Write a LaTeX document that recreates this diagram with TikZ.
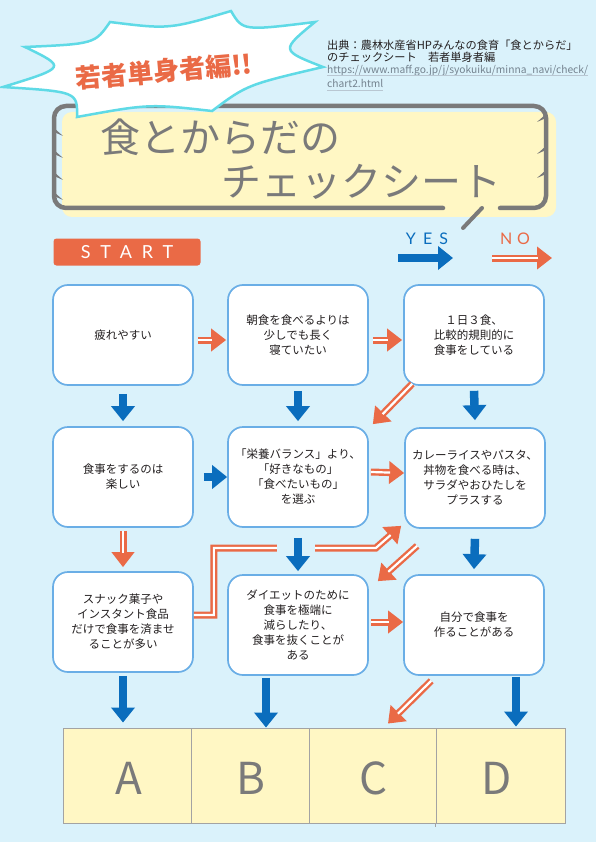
\documentclass[tikz,border=0pt]{standalone}
\usepackage{fontspec}
\setmainfont{Noto Sans CJK JP}
\newfontfamily\latA[LetterSpace=55]{Lato}
\newfontfamily\latB[LetterSpace=45]{Lato}
\newfontfamily\latC[LetterSpace=30]{Lato}
\usetikzlibrary{arrows.meta,calc}
\definecolor{bg}{HTML}{DAF2FB}
\definecolor{noorange}{HTML}{EA6A46}
\definecolor{yesblue}{HTML}{0A6DBD}
\definecolor{boxblue}{HTML}{6AAEE6}
\definecolor{ttlgray}{HTML}{7A7A7A}
\definecolor{ttlyellow}{HTML}{FFF7C4}
\definecolor{burstc}{HTML}{5FDAE6}
\definecolor{txt}{HTML}{231F20}
\definecolor{urlc}{HTML}{74838F}
\definecolor{urlline}{HTML}{B9C7D2}
\definecolor{resline}{HTML}{A3A3A3}
\tikzset{
  qbox/.style={draw=boxblue, line width=1.7pt, fill=white, rounded corners=15pt,
    minimum width=140pt, minimum height=100pt, align=center, text=txt,
    font=\fontsize{11.5}{15}\selectfont},
  resbox/.style={draw=resline, line width=0.9pt, fill=ttlyellow, minimum height=95pt, inner sep=0pt},
  resletter/.style={text=ttlgray, font=\fontsize{44}{44}\selectfont},
  yesarr/.style={draw=yesblue, line width=8.5pt, -{Triangle[length=15pt,width=23pt]}},
  noarr/.style={draw=noorange, line width=7pt, -{Triangle[length=15pt,width=22pt]},
    postaction={draw=white, line width=2.2pt, -, shorten >=14pt}},
  cite/.style={anchor=west, inner sep=0pt, text=txt, font=\fontsize{11.2}{12}\selectfont},
  citeurl/.style={anchor=west, inner sep=0pt, text=urlc, font=\fontsize{10.25}{12}\selectfont},
  titletext/.style={anchor=west, text=ttlgray, font=\fontsize{40}{40}\selectfont},
}
\begin{document}
\begin{tikzpicture}[x=1pt,y=-1pt]
\fill[bg] (0,0) rectangle (596,842);
\useasboundingbox (0,0) rectangle (596,842);

% title board
\fill[ttlyellow, rounded corners=10pt] (62,112) rectangle (556,217);
\draw[ttlgray, line width=4.5pt, rounded corners=12pt, line cap=round]
  (443,208) -- (54,208) -- (54,106) -- (546,106) -- (546,208) -- (500,208);
\draw[ttlgray, line width=4pt, line cap=round] (482,208) -- (463,228);
\foreach \yy in {128,150,172,192} \fill[ttlgray] (54,\yy) -- (63,\yy+8) -- (54,\yy+4) -- cycle;
\foreach \yy in {114,146,170} \fill[ttlgray] (546,\yy) -- (537,\yy+8) -- (546,\yy+4) -- cycle;
\node[titletext] (t1) at (97,137) {食とからだの};
\node[titletext] (t2) at (218,182) {チェックシート};

% starburst
\coordinate (bc) at (165,68);
\coordinate (s1) at (3,87);
\coordinate (s2) at (25,47);
\coordinate (s3) at (110,22);
\coordinate (s4) at (231,11);
\coordinate (s5) at (315,22);
\coordinate (s6) at (323,67);
\coordinate (s7) at (212,111);
\coordinate (s8) at (77,117);
\filldraw[fill=white, draw=burstc, line width=2.5pt, line join=miter]
  (s1) .. controls ($(s1)!.5!(s2)!.35!(bc)$) .. (s2)
       .. controls ($(s2)!.5!(s3)!.28!(bc)$) .. (s3)
       .. controls ($(s3)!.5!(s4)!.25!(bc)$) .. (s4)
       .. controls ($(s4)!.5!(s5)!.28!(bc)$) .. (s5)
       .. controls ($(s5)!.5!(s6)!.25!(bc)$) .. (s6)
       .. controls ($(s6)!.5!(s7)!.2!(bc)$) .. (s7)
       .. controls ($(s7)!.5!(s8)!.22!(bc)$) .. (s8)
       .. controls ($(s8)!.5!(s1)!.3!(bc)$) .. (s1) -- cycle;
\node[rotate=5, text=noorange, font=\fontsize{26}{26}\selectfont\bfseries] (burst) at (164,71) {若者単身者編!!};

% citation
\node[cite] (c1) at (327,45) {出典：農林水産省HPみんなの食育「食とからだ」};
\node[cite] (c2) at (327,57.5) {のチェックシート　若者単身者編};
\node[citeurl] (c3) at (327,70.5) {https://www.maff.go.jp/j/syokuiku/minna\_navi/check/};
\node[citeurl] (c4) at (327,83.5) {chart2.html};
\draw[urlline, line width=0.8pt] ($(c3.base west)+(0,2.5)$) -- ($(c3.base east)+(0,2.5)$);
\draw[urlline, line width=0.8pt] ($(c4.base west)+(0,2.5)$) -- ($(c4.base east)+(0,2.5)$);

% start + legend
\node[fill=noorange, rounded corners=3pt, minimum width=147pt, minimum height=27pt,
  text=white, font=\latA\fontsize{18}{18}\selectfont] (start) at (127,252) {START};
\node[text=yesblue, font=\latB\fontsize{16}{16}\selectfont] (yes) at (427,239) {YES};
\node[text=noorange, font=\latC\fontsize{16}{16}\selectfont] (no) at (515,239) {NO};
\coordinate (yesA) at (398,258);
\coordinate (yesB) at (453,258);
\coordinate (noA) at (492,258);
\coordinate (noB) at (552,258);
\draw[yesarr, line width=8pt] (yesA) -- (yesB);
\draw[noarr] (noA) -- (noB);

% question boxes
\node[qbox] (r11) at (123,335) {疲れやすい};
\node[qbox] (r12) at (298,335) {朝食を食べるよりは\\少しでも長く\\寝ていたい};
\node[qbox] (r13) at (474,335) {１日３食、\\比較的規則的に\\食事をしている};
\node[qbox] (r21) at (123,477) {食事をするのは\\楽しい};
\node[qbox] (r22) at (298,477) {「栄養バランス」より、\\「好きなもの」\\「食べたいもの」\\を選ぶ};
\node[qbox] (r23) at (475,478) {カレーライスやパスタ、\\丼物を食べる時は、\\サラダやおひたしを\\プラスする};
\node[qbox] (r31) at (123,622) {スナック菓子や\\インスタント食品\\だけで食事を済ませ\\ることが多い};
\node[qbox] (r32) at (298,625) {ダイエットのために\\食事を極端に\\減らしたり、\\食事を抜くことが\\ある};
\node[qbox] (r33) at (474,625) {自分で食事を\\作ることがある};

% result boxes
\node[resbox, minimum width=128pt] (resA) at (127,775.5) {};
\node[resbox, minimum width=118pt] (resB) at (250,775.5) {};
\node[resbox, minimum width=127pt] (resC) at (372.5,775.5) {};
\node[resbox, minimum width=129pt] (resD) at (500.5,775.5) {};
\draw[resline, line width=0.9pt] (resD.south west) -- ++(0,4);
\node[resletter] (lA) at ($(resA.center)+(2,3)$) {A};
\node[resletter] (lB) at ($(resB.center)+(1,3)$) {B};
\node[resletter] (lC) at ($(resC.center)+(1,3)$) {C};
\node[resletter] (lD) at ($(resD.center)+(-4,3)$) {D};

% NO arrows
\draw[noarr] ($(r11.east)+(4,5)$) -- ($(r12.west)+(-1,5)$);
\draw[noarr] ($(r12.east)+(4,5)$) -- ($(r13.west)+(-1,5)$);
\draw[noarr] ($(r13.south west)+(9,-2)$) -- ($(r22.north east)+(4,-2)$);
\draw[noarr] ($(r22.east)+(2,-5)$) -- ($(r23.west)+(0,-5)$);
\draw[noarr] ($(r21.south)+(0,3)$) -- ($(r31.north)+(0,-4)$);
\draw[noarr] ($(r31.east)+(0,-7)$) -- ++(20,0) -- ++(0,-67) -- ++(162,0) -- ($(r23.south west)+(-3,-3)$);
\fill[bg] (277,541) rectangle (315,555);
\draw[noarr] ($(r23.south west)+(13,17)$) -- ($(r32.north east)+(9,7)$);
\draw[noarr] ($(r32.east)+(2,-3)$) -- ($(r33.west)+(0,-3)$);
\draw[noarr] ($(r33.south west)+(28,5)$) -- ($(resC.north)+(15.5,-4)$);

% YES arrows
\draw[yesarr] ($(r11.south)+(0,8)$) -- ($(r21.north)+(0,-5)$);
\draw[yesarr] ($(r12.south)+(0,5)$) -- ($(r22.north)+(0,-5)$);
\draw[yesarr] ($(r13.south)+(0,5)$) -- ($(r23.north)+(0,-7)$);
\draw[yesarr] ($(r21.east)+(10,0)$) -- (r22.west);
\draw[yesarr] ($(r22.south)+(0,10)$) -- ($(r32.north)+(0,-3)$);
\draw[yesarr] ($(r23.south)+(0,10)$) -- ($(r33.north)+(0,-5)$);
\draw[yesarr] ($(r31.south)+(0,3)$) -- ($(r31.south |- resA.north)+(0,-5)$);
\draw[yesarr] ($(r32.south)+(-32,2)$) -- ($(r32.south |- resB.north)+(-32,0)$);
\draw[yesarr] ($(r33.south)+(42,1)$) -- ($(r33.south |- resD.north)+(42,-1)$);
\end{tikzpicture}
\end{document}
